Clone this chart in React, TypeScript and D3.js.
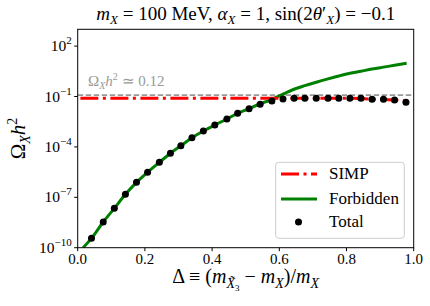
import React from "react";
import * as d3 from "d3";

// values (log y axis)
const totalDelta = [
  0.041, 0.076, 0.109, 0.142, 0.175, 0.208, 0.243, 0.276, 0.307, 0.34, 0.374, 0.408, 0.444, 0.476, 0.51,
  0.543, 0.578, 0.611, 0.644, 0.676, 0.71, 0.745, 0.777, 0.81, 0.843, 0.876, 0.91, 0.943, 0.977,
];
const totalOmega = [
  3.6e-10, 3.4e-9, 2.2e-8, 1.5e-7, 7.8e-7, 3.1e-6, 1.2e-5, 4.2e-5, 1.17e-4, 3.5e-4, 8.9e-4, 2.0e-3, 4.6e-3,
  1.0e-2, 1.86e-2, 3.5e-2, 5.4e-2, 7.1e-2, 7.8e-2, 7.8e-2, 7.8e-2, 7.8e-2, 7.8e-2, 7.8e-2, 7.8e-2, 6.8e-2,
  6.8e-2, 6.2e-2, 4.5e-2,
];

const forbiddenDelta = [
  0.016, 0.041, 0.076, 0.109, 0.142, 0.175, 0.208, 0.243, 0.276, 0.307, 0.34, 0.374, 0.408, 0.444, 0.476,
  0.51, 0.543, 0.578, 0.611, 0.644, 0.676, 0.71, 0.745, 0.777, 0.81, 0.843, 0.876, 0.91, 0.943, 0.979,
];
const forbiddenOmega = [
  1e-10, 3.6e-10, 3.4e-9, 2.2e-8, 1.5e-7, 7.8e-7, 3.1e-6, 1.2e-5, 4.2e-5, 1.17e-4, 3.5e-4, 8.9e-4, 2.0e-3,
  4.6e-3, 1.0e-2, 1.86e-2, 3.7e-2, 6.6e-2, 0.138, 0.27, 0.44, 0.71, 1.12, 1.66, 2.4, 3.2, 4.3, 5.6, 7.2, 9.5,
];

const simpDelta = [0.008, 0.2, 0.4, 0.6, 0.8, 0.84, 0.876, 0.91, 0.943, 0.981];
const simpOmega = [0.078, 0.078, 0.078, 0.078, 0.078, 0.077, 0.07, 0.067, 0.062, 0.054];

const relicOmega = 0.12;

const xTicks = [0, 0.2, 0.4, 0.6, 0.8, 1.0];
const yTicks = [1e-10, 1e-7, 1e-4, 1e-1, 1e2];

const W = 430;
const H = 306;
const m = { left: 77.7, right: 413.7, top: 29.3, bottom: 247.7 };
const serif = "Liberation Serif";

export default function App() {
  const x = d3.scaleLinear().domain([0, 1]).range([m.left, m.right]);
  const y = d3.scaleLog().domain([1e-10, 1e3]).range([m.bottom, m.top]);

  const line = d3
    .line<[number, number]>()
    .x((d) => x(d[0]))
    .y((d) => y(d[1]));
  const smooth = d3
    .line<[number, number]>()
    .x((d) => x(d[0]))
    .y((d) => y(d[1]))
    .curve(d3.curveMonotoneX);

  const forbidden = forbiddenDelta.map((d, i) => [d, forbiddenOmega[i]] as [number, number]);
  const simp = simpDelta.map((d, i) => [d, simpOmega[i]] as [number, number]);
  const total = totalDelta.map((d, i) => [d, totalOmega[i]] as [number, number]);

  const sub = (t: string, italic = true, size = 13, dy = 4) => (
    <tspan dy={dy} fontSize={size} fontStyle={italic ? "italic" : "normal"}>
      {t}
    </tspan>
  );
  const back = (dy: number, t = "") => <tspan dy={dy}>{t}</tspan>;

  return (
    <svg width={W} height={H} style={{ position: "absolute", left: 0, top: 0, background: "#fff" }}>
      <defs>
        <clipPath id="plot">
          <rect x={m.left} y={m.top} width={m.right - m.left} height={m.bottom - m.top} />
        </clipPath>
      </defs>

      {/* title */}
      <text x={(m.left + m.right) / 2} y={19.5} fontSize={19} textAnchor="middle" fontFamily={serif}>
        <tspan fontStyle="italic">m</tspan>
        {sub("X")}
        {back(-4, " = 100 MeV,  ")}
        <tspan fontStyle="italic">α</tspan>
        {sub("X")}
        {back(-4, " = 1,  sin(2")}
        <tspan fontStyle="italic">θ</tspan>
        <tspan>′</tspan>
        {sub("X")}
        {back(-4, ") = −0.1")}
      </text>

      <g clipPath="url(#plot)">
        <line
          x1={m.left}
          x2={m.right}
          y1={y(relicOmega)}
          y2={y(relicOmega)}
          stroke="#999"
          strokeWidth={1.6}
          strokeDasharray="5.5,2.5"
        />
        <path d={smooth(forbidden) ?? ""} fill="none" stroke="#008000" strokeWidth={3} />
        <path d={line(simp) ?? ""} fill="none" stroke="#ff0000" strokeWidth={3} strokeDasharray="18,4.5,3,4.5" />
        {total.map((d, i) => (
          <circle key={i} cx={x(d[0])} cy={y(d[1])} r={3.5} fill="#000" />
        ))}
      </g>

      <text x={88} y={86} fontSize={15} fill="#999" fontFamily={serif}>
        Ω{sub("X", true, 10, 3)}
        <tspan dy={-3} fontStyle="italic">h</tspan>
        <tspan dy={-6} fontSize={10}>2</tspan>
        <tspan dy={6}> ≃ 0.12</tspan>
      </text>

      {/* axes frame */}
      <rect
        x={m.left}
        y={m.top}
        width={m.right - m.left}
        height={m.bottom - m.top}
        fill="none"
        stroke="#000"
        strokeWidth={1}
      />

      {xTicks.map((t) => (
        <g key={t}>
          <line x1={x(t)} x2={x(t)} y1={m.bottom} y2={m.bottom + 3.5} stroke="#000" />
          <text x={x(t)} y={m.bottom + 16.5} fontSize={15} textAnchor="middle" fontFamily={serif}>
            {t.toFixed(1)}
          </text>
        </g>
      ))}
      {yTicks.map((t) => (
        <g key={t}>
          <line x1={m.left - 3.5} x2={m.left} y1={y(t)} y2={y(t)} stroke="#000" />
          <text x={m.left - 6} y={y(t) + 5} fontSize={15.5} textAnchor="end" fontFamily={serif}>
            10
            <tspan dy={-7} fontSize={11}>
              {Math.round(Math.log10(t)).toString().replace("-", "−")}
            </tspan>
          </text>
        </g>
      ))}

      {/* axis labels */}
      <text x={(m.left + m.right) / 2} y={283} fontSize={20} textAnchor="middle" fontFamily={serif}>
        Δ ≡ (<tspan fontStyle="italic">m</tspan>
        <tspan dy={5} fontSize={14} fontStyle="italic">X̃</tspan>
        <tspan dy={3} fontSize={9}>3</tspan>
        {back(-8, " − ")}
        <tspan fontStyle="italic">m</tspan>
        {sub("X", true, 14, 5)}
        {back(-5, ")/")}
        <tspan fontStyle="italic">m</tspan>
        {sub("X", true, 14, 5)}
      </text>
      <text
        transform={`translate(25,${(m.top + m.bottom) / 2}) rotate(-90)`}
        fontSize={21}
        textAnchor="middle"
        fontFamily={serif}
      >
        Ω{sub("X", true, 14, 5)}
        <tspan dy={-5} fontStyle="italic">h</tspan>
        <tspan dy={-8} fontSize={14}>2</tspan>
      </text>

      {/* legend */}
      <g fontFamily={serif}>
        <rect x={275.7} y={162.3} width={128.6} height={76} rx={3} fill="#fff" fillOpacity={0.8} stroke="#ccc" />
        <line x1={281} x2={317} y1={174} y2={174} stroke="#ff0000" strokeWidth={3} strokeDasharray="18,4.5,3,4.5" />
        <text x={329} y={179.3} fontSize={17}>SIMP</text>
        <line x1={281} x2={317} y1={199} y2={199} stroke="#008000" strokeWidth={3} />
        <text x={329} y={204.3} fontSize={17}>Forbidden</text>
        <circle cx={298.5} cy={222} r={3.5} fill="#000" />
        <text x={329} y={227.3} fontSize={17}>Total</text>
      </g>
    </svg>
  );
}
